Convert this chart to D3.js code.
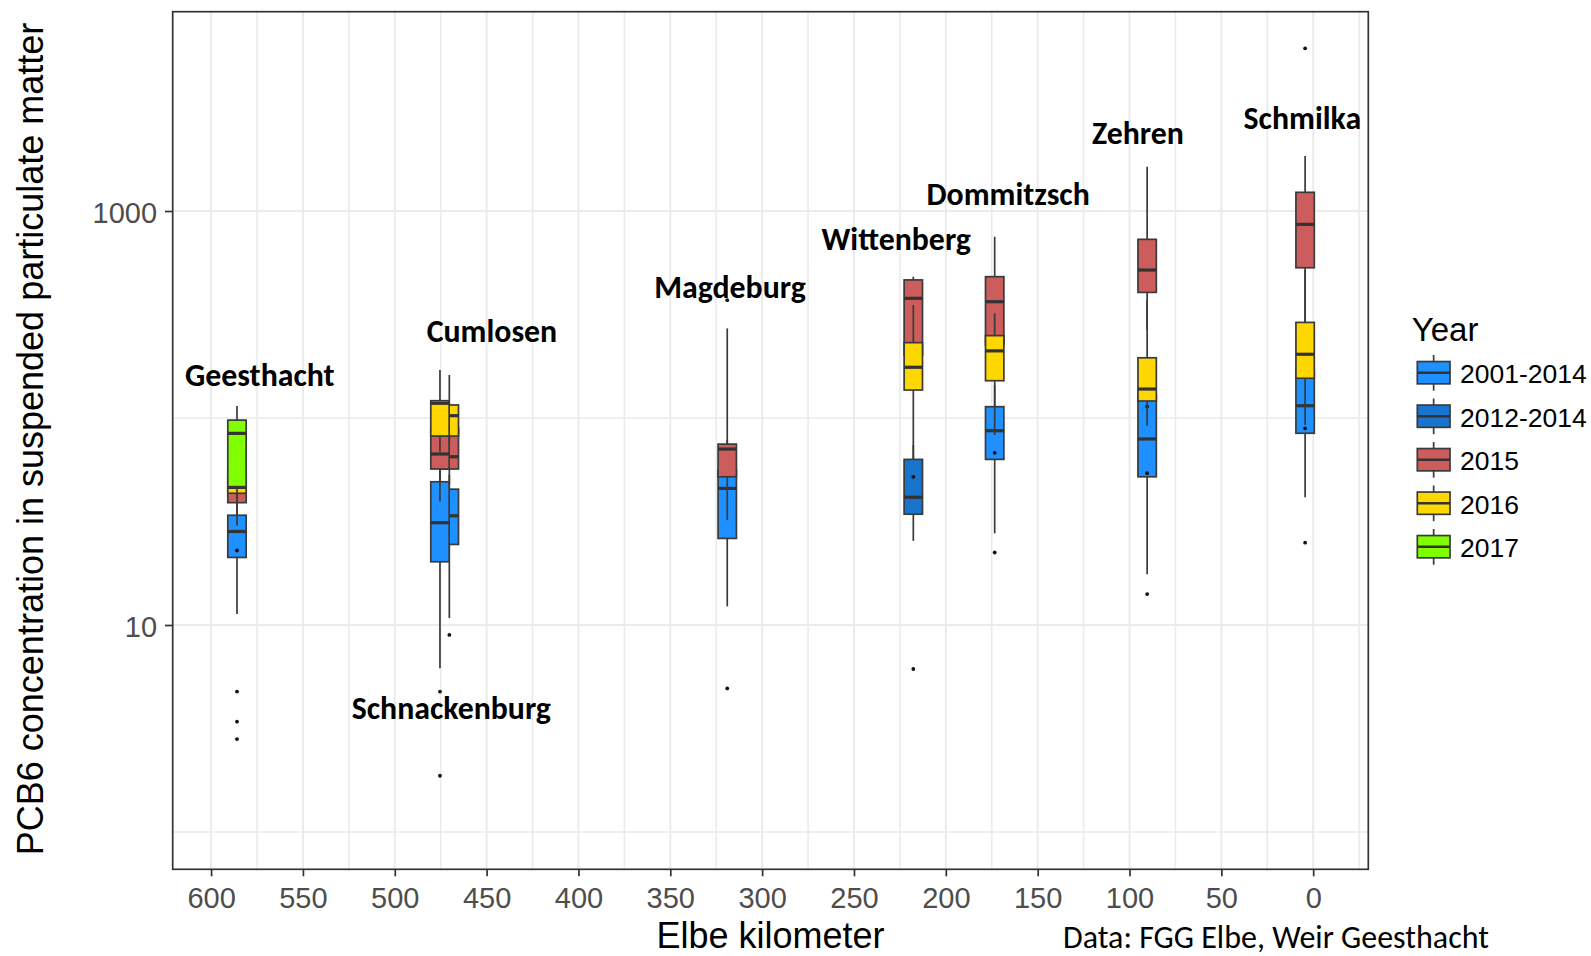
<!DOCTYPE html>
<html>
<head>
<meta charset="utf-8">
<script src="https://cdn.jsdelivr.net/npm/d3@7"></script>
<style>
  html, body { margin: 0; padding: 0; background: #ffffff; overflow: hidden; }
  svg { display: block; }
</style>
</head>
<body>
<svg id="chart" width="1591" height="956"></svg>
<script>
// ---------------- DATA ----------------
const years = ["2001-2014", "2012-2014", "2015", "2016", "2017"];

const stations  = ["Geesthacht", "Schnackenburg", "Cumlosen", "Magdeburg", "Wittenberg", "Dommitzsch", "Zehren", "Schmilka"];
const stationKm = [585.9, 475.4, 470.3, 319.0, 217.7, 173.4, 90.4, 4.4];

// station label anchors (data units: Elbe km, PCB6 value at text baseline)
const labelKm    = [573.5, 469.2, 447.1, 317.5, 227.0, 166.1, 95.4, 5.9];
const labelValue = [142.8, 3.50, 233.2, 378.4, 648, 1069, 2098, 2487];

const xTicks = [600, 550, 500, 450, 400, 350, 300, 250, 200, 150, 100, 50, 0];
const xMinorTicks = [575, 525, 475, 425, 375, 325, 275, 225, 175, 125, 75, 25, -25];
const yTicks = [10, 1000];
const yMinorTicks = [1, 100];

// box statistics: [year, lower whisker, q1, median, q3, upper whisker, outliers]
const geesthacht = [
  ["2001-2014", 11.3, 21.2, 28.3, 33.9, 40.2, [4.77, 3.41, 2.81]],
  ["2015",      30.2, 39.0, 43.9, 51.3, 56.1, [22.9]],
  ["2016",      39.3, 43.3, 46.2, 56.1, 62.6, []],
  ["2017",      40.2, 46.6, 84.3, 97.7, 114.3, []]
];
const schnackenburg = [
  ["2001-2014", 6.18, 20.2, 31.2, 49.2, 56.1, [4.77, 1.87]],
  ["2015",      39.5, 56.7, 67.0, 87.5, 109,  []],
  ["2016",      68.7, 81.8, 117.8, 121.2, 170.6, []]
];
const cumlosen = [
  ["2001-2014", 10.8, 24.5, 33.7, 45.3, 53.1, [8.95]],
  ["2015",      47.5, 56.7, 65.0, 89.5, 105,  []],
  ["2016",      74.1, 81.8, 102.6, 115.6, 161.4, []]
];
const magdeburg = [
  ["2001-2014", 12.3, 26.2, 45.7, 56.1, 78.3, [4.94]],
  ["2015",      32.1, 52.0, 70.8, 74.8, 271,  [371]]
];
const wittenberg = [
  ["2012-2014", 25.5, 34.3, 41.4, 63.1, 74.1, [6.13]],
  ["2015",      170.6, 201.3, 378.6, 464.6, 481.6, [52.0]],
  ["2016",      63.1, 136.5, 175.8, 231.2, 351.4, []]
];
const dommitzsch = [
  ["2001-2014", 27.7, 63.1, 86.8, 113.4, 144.2, [22.4]],
  ["2015",      170.6, 225.6, 364.6, 481.6, 751, [67.9]],
  ["2016",      82.8, 151.4, 211, 250, 320.6, []]
];
const zehren = [
  ["2001-2014", 17.6, 52.0, 79.2, 129.2, 170.6, [14.1]],
  ["2015",      266, 404.4, 518.6, 729.6, 1637, []],
  ["2016",      91.8, 120.8, 138.0, 195.4, 371.5, [54.1, 113.5]]
];
const schmilka = [
  ["2001-2014", 41.4, 84.4, 114.6, 170.6, 371.5, [25.0]],
  ["2015",      371.5, 532, 862, 1231, 1845, [6109]],
  ["2016",      92.5, 155.6, 203.2, 289.6, 518.6, [89.1]]
];
const boxSets = [geesthacht, schnackenburg, cumlosen, magdeburg, wittenberg, dommitzsch, zehren, schmilka];

const sourceNote = "Data: FGG Elbe, Weir Geesthacht";

// ---------------- STYLE / LAYOUT ----------------
const W = 1591, H = 956;
const panel = { left: 172.7, right: 1368.3, top: 11.7, bottom: 869.3 };
const colors = ["#1E90FF", "#1874CD", "#CD5C5C", "#FFD700", "#7FFF00"];
const boxHalfKm = 5;
const axisFont = "'Liberation Sans', Arial, sans-serif";
const labelFont = "Carlito, Calibri, Lato, sans-serif";

const svg = d3.select("#chart");

const x = d3.scaleLinear().domain([620.9, -30]).range([panel.left, panel.right]);
const y = d3.scaleLog().domain([0.6604, 9180]).range([panel.bottom, panel.top]);
const color = d3.scaleOrdinal().domain(years).range(colors);

// background
svg.append("rect").attr("width", W).attr("height", H).attr("fill", "#ffffff");
svg.append("rect")
  .attr("x", panel.left).attr("y", panel.top)
  .attr("width", panel.right - panel.left).attr("height", panel.bottom - panel.top)
  .attr("fill", "#ffffff");

// grid
const grid = svg.append("g");
grid.selectAll("line.vmin").data(xMinorTicks).join("line")
  .attr("x1", d => x(d)).attr("x2", d => x(d))
  .attr("y1", panel.top).attr("y2", panel.bottom)
  .attr("stroke", "#EBEBEB").attr("stroke-width", 1.6);
grid.selectAll("line.hmin").data(yMinorTicks).join("line")
  .attr("y1", d => y(d)).attr("y2", d => y(d))
  .attr("x1", panel.left).attr("x2", panel.right)
  .attr("stroke", "#EBEBEB").attr("stroke-width", 1.6);
grid.selectAll("line.vmaj").data(xTicks).join("line")
  .attr("x1", d => x(d)).attr("x2", d => x(d))
  .attr("y1", panel.top).attr("y2", panel.bottom)
  .attr("stroke", "#EBEBEB").attr("stroke-width", 2);
grid.selectAll("line.hmaj").data(yTicks).join("line")
  .attr("y1", d => y(d)).attr("y2", d => y(d))
  .attr("x1", panel.left).attr("x2", panel.right)
  .attr("stroke", "#EBEBEB").attr("stroke-width", 2);

// flatten boxes, draw order: by year, then km ascending
const boxes = [];
boxSets.forEach((set, i) => {
  set.forEach(r => boxes.push({
    station: stations[i], km: stationKm[i], year: r[0],
    lo: r[1], q1: r[2], med: r[3], q3: r[4], hi: r[5], out: r[6]
  }));
});
boxes.sort((a, b) => (years.indexOf(a.year) - years.indexOf(b.year)) || (a.km - b.km));

const boxLayer = svg.append("g");
boxes.forEach(b => {
  const g = boxLayer.append("g");
  const cx = x(b.km);
  const xl = x(b.km + boxHalfKm), xr = x(b.km - boxHalfKm);
  g.selectAll("circle").data(b.out).join("circle")
    .attr("cx", cx).attr("cy", d => y(d)).attr("r", 1.9).attr("fill", "#111");
  g.append("line").attr("x1", cx).attr("x2", cx).attr("y1", y(b.hi)).attr("y2", y(b.q3))
    .attr("stroke", "#3a3a3a").attr("stroke-width", 1.7);
  g.append("line").attr("x1", cx).attr("x2", cx).attr("y1", y(b.q1)).attr("y2", y(b.lo))
    .attr("stroke", "#3a3a3a").attr("stroke-width", 1.7);
  g.append("rect")
    .attr("x", xl).attr("y", y(b.q3))
    .attr("width", xr - xl).attr("height", y(b.q1) - y(b.q3))
    .attr("fill", color(b.year)).attr("stroke", "#3a3a3a").attr("stroke-width", 1.7);
  g.append("line").attr("x1", xl).attr("x2", xr).attr("y1", y(b.med)).attr("y2", y(b.med))
    .attr("stroke", "#333").attr("stroke-width", 3.2);
});

// panel border
svg.append("rect")
  .attr("x", panel.left).attr("y", panel.top)
  .attr("width", panel.right - panel.left).attr("height", panel.bottom - panel.top)
  .attr("fill", "none").attr("stroke", "#333").attr("stroke-width", 1.7);

// axes
const xAxis = svg.append("g").attr("transform", `translate(0,${panel.bottom})`)
  .call(d3.axisBottom(x).tickValues(xTicks).tickFormat(d3.format("d")).tickSize(7).tickPadding(11.4));
xAxis.select(".domain").remove();
xAxis.selectAll(".tick line").attr("stroke", "#333").attr("stroke-width", 1.7);
xAxis.selectAll(".tick text").attr("fill", "#4D4D4D")
  .style("font-family", axisFont).style("font-size", "29px");

const yAxis = svg.append("g").attr("transform", `translate(${panel.left},0)`)
  .call(d3.axisLeft(y).tickValues(yTicks).tickFormat(d3.format("d")).tickSize(7.7).tickPadding(8));
yAxis.select(".domain").remove();
yAxis.selectAll(".tick line").attr("stroke", "#333").attr("stroke-width", 1.7);
yAxis.selectAll(".tick text").attr("fill", "#4D4D4D").attr("dy", "0.39em")
  .style("font-family", axisFont).style("font-size", "29px");

// axis titles
svg.append("text")
  .attr("transform", `translate(42.7,439) rotate(-90)`)
  .attr("text-anchor", "middle")
  .style("font-family", axisFont).style("font-size", "36px").attr("fill", "#000")
  .text("PCB6 concentration in suspended particulate matter");
svg.append("text")
  .attr("x", (panel.left + panel.right) / 2).attr("y", 948)
  .attr("text-anchor", "middle")
  .style("font-family", axisFont).style("font-size", "36px").attr("fill", "#000")
  .text("Elbe kilometer");

// station labels (bold), sized so that their widths match the reference
const labelTargetWidth = 1153.4;
const labels = svg.append("g").selectAll("text").data(stations).join("text")
  .attr("x", (d, i) => x(labelKm[i]))
  .attr("y", (d, i) => y(labelValue[i]))
  .attr("text-anchor", "middle")
  .style("font-family", labelFont).style("font-weight", "bold").style("font-size", "30px")
  .attr("fill", "#000")
  .text(d => d);
let measured = 0;
labels.each(function() { measured += this.getComputedTextLength(); });
const labelSize = 30 * labelTargetWidth / measured;
labels.style("font-size", labelSize + "px");

// legend
const legend = svg.append("g");
legend.append("text").attr("x", 1411.7).attr("y", 340.7)
  .style("font-family", axisFont).style("font-size", "33px").attr("fill", "#000")
  .text("Year");
const keyX = 1417.3, keyW = 32.7, keyH = 22.3, key0 = 372.7, keyStep = 43.5;
years.forEach((yr, i) => {
  const cy = key0 + i * keyStep;
  const cx = keyX + keyW / 2;
  legend.append("line").attr("x1", cx).attr("x2", cx).attr("y1", cy - 17.7).attr("y2", cy + 18)
    .attr("stroke", "#3a3a3a").attr("stroke-width", 1.7);
  legend.append("rect").attr("x", keyX).attr("y", cy - keyH / 2).attr("width", keyW).attr("height", keyH)
    .attr("fill", color(yr)).attr("stroke", "#3a3a3a").attr("stroke-width", 1.7);
  legend.append("line").attr("x1", keyX).attr("x2", keyX + keyW).attr("y1", cy).attr("y2", cy)
    .attr("stroke", "#333").attr("stroke-width", 2.4);
  legend.append("text").attr("x", 1460).attr("y", cy + 10.6)
    .style("font-family", axisFont).style("font-size", "26.5px").attr("fill", "#000")
    .text(yr);
});

// source note: kept fully inside the page, clear of the tick labels
const note = svg.append("text").attr("x", 1063).attr("y", 948)
  .style("font-family", labelFont).style("font-size", "32px").attr("fill", "#000")
  .text(sourceNote);
const noteW = note.node().getComputedTextLength();
note.style("font-size", Math.min(32, 32 * 522 / noteW) + "px");
</script>
</body>
</html>
